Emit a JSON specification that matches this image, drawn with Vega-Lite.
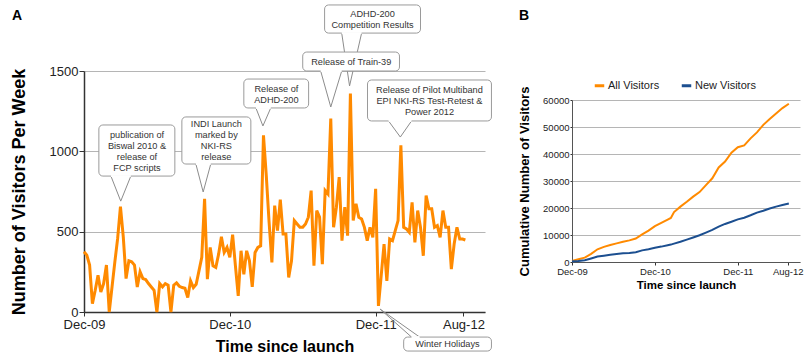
{
  "$schema": "https://vega.github.io/schema/vega-lite/v6.json",
  "padding": {"left": 10, "top": 4, "right": 0, "bottom": 0},
  "background": "white",
  "spacing": 26,
  "resolve": {"legend": {"color": "independent"}},
  "config": {
    "font": "Liberation Sans",
    "view": {"stroke": null},
    "axis": {"labelColor": "#222", "titleColor": "#000", "domainColor": "#333", "tickColor": "#333"}
  },
  "datasets": {
    "weekly": [
      {"week":0,"visitors":375},{"week":1,"visitors":354},{"week":2,"visitors":292},{"week":3,"visitors":52},{"week":4,"visitors":135},
      {"week":5,"visitors":229},{"week":6,"visitors":125},{"week":7,"visitors":177},{"week":8,"visitors":292},{"week":9,"visitors":0},
      {"week":10,"visitors":156},{"week":11,"visitors":312},{"week":12,"visitors":458},{"week":13,"visitors":656},{"week":14,"visitors":469},
      {"week":15,"visitors":208},{"week":16,"visitors":319},{"week":17,"visitors":312},{"week":18,"visitors":292},{"week":19,"visitors":156},
      {"week":20,"visitors":250},{"week":21,"visitors":208},{"week":22,"visitors":202},{"week":23,"visitors":177},{"week":24,"visitors":156},
      {"week":25,"visitors":135},{"week":26,"visitors":0},{"week":27,"visitors":177},{"week":28,"visitors":156},{"week":29,"visitors":177},
      {"week":30,"visitors":167},{"week":31,"visitors":0},{"week":32,"visitors":167},{"week":33,"visitors":181},{"week":34,"visitors":160},
      {"week":35,"visitors":152},{"week":36,"visitors":148},{"week":37,"visitors":90},{"week":38,"visitors":194},{"week":39,"visitors":152},
      {"week":40,"visitors":173},{"week":41,"visitors":256},{"week":42,"visitors":340},{"week":43,"visitors":704},{"week":44,"visitors":204},
      {"week":45,"visitors":402},{"week":46,"visitors":287},{"week":47,"visitors":277},{"week":48,"visitors":360},{"week":49,"visitors":469},
      {"week":50,"visitors":371},{"week":51,"visitors":402},{"week":52,"visitors":340},{"week":53,"visitors":481},{"week":54,"visitors":287},
      {"week":55,"visitors":100},{"week":56,"visitors":381},{"week":57,"visitors":235},{"week":58,"visitors":381},{"week":59,"visitors":319},
      {"week":60,"visitors":156},{"week":61,"visitors":371},{"week":62,"visitors":402},{"week":63,"visitors":412},{"week":64,"visitors":1100},
      {"week":65,"visitors":850},{"week":66,"visitors":560},{"week":67,"visitors":308},{"week":68,"visitors":662},{"week":69,"visitors":506},
      {"week":70,"visitors":700},{"week":71,"visitors":485},{"week":72,"visitors":485},{"week":73,"visitors":215},{"week":74,"visitors":319},
      {"week":75,"visitors":569},{"week":76,"visitors":548},{"week":77,"visitors":527},{"week":78,"visitors":527},{"week":79,"visitors":548},
      {"week":80,"visitors":590},{"week":81,"visitors":756},{"week":82,"visitors":288},{"week":83,"visitors":631},{"week":84,"visitors":590},
      {"week":85,"visitors":298},{"week":86,"visitors":756},{"week":87,"visitors":735},{"week":88,"visitors":1204},{"week":89,"visitors":527},
      {"week":90,"visitors":652},{"week":91,"visitors":840},{"week":92,"visitors":444},{"week":93,"visitors":652},{"week":94,"visitors":475},
      {"week":95,"visitors":1360},{"week":96,"visitors":569},{"week":97,"visitors":673},{"week":98,"visitors":590},{"week":99,"visitors":579},
      {"week":100,"visitors":527},{"week":101,"visitors":444},{"week":102,"visitors":527},{"week":103,"visitors":465},{"week":104,"visitors":767},
      {"week":105,"visitors":38},{"week":106,"visitors":230},{"week":107,"visitors":423},{"week":108,"visitors":194},{"week":109,"visitors":454},
      {"week":110,"visitors":444},{"week":111,"visitors":506},{"week":112,"visitors":569},{"week":113,"visitors":1037},{"week":114,"visitors":527},
      {"week":115,"visitors":517},{"week":116,"visitors":496},{"week":117,"visitors":683},{"week":118,"visitors":433},{"week":119,"visitors":631},
      {"week":120,"visitors":527},{"week":121,"visitors":350},{"week":122,"visitors":725},{"week":123,"visitors":642},{"week":124,"visitors":642},
      {"week":125,"visitors":527},{"week":126,"visitors":538},{"week":127,"visitors":465},{"week":128,"visitors":631},{"week":129,"visitors":527},
      {"week":130,"visitors":527},{"week":131,"visitors":267},{"week":132,"visitors":423},{"week":133,"visitors":527},{"week":134,"visitors":454},
      {"week":135,"visitors":454},{"week":136,"visitors":448}
    ],
    "callouts": [
      {"id":1,"x1":5.3,"x2":32.4,"y1":846,"y2":1164,"tx":18.9,"ty":1102,"bx1":9.6,"bx2":16.7,"by":846,"label":"publication of\nBiswal 2010 &\nrelease of\nFCP scripts"},
      {"id":2,"x1":34.9,"x2":59.5,"y1":921,"y2":1214,"tx":47.2,"ty":1170,"bx1":39.9,"bx2":45.2,"by":921,"label":"INDI Launch\nmarked by\nNKI-RS\nrelease"},
      {"id":3,"x1":57.0,"x2":80.1,"y1":1270,"y2":1450,"tx":68.6,"ty":1388,"bx1":61.3,"bx2":66.6,"by":1270,"label":"Release of\nADHD-200"},
      {"id":5,"x1":85.8,"x2":120.0,"y1":1736,"y2":1911,"tx":102.9,"ty":1852,"bx1":91.9,"bx2":99.0,"by":1736,"label":"ADHD-200\nCompetition Results"},
      {"id":4,"x1":78.0,"x2":112.5,"y1":1500,"y2":1618,"tx":95.3,"ty":1559,"bx1":84.4,"bx2":91.9,"by":1500,"label":"Release of Train-39"},
      {"id":6,"x1":101.1,"x2":145.3,"y1":1189,"y2":1444,"tx":123.2,"ty":1382,"bx1":108.6,"bx2":116.8,"by":1189,"label":"Release of Pilot Multiband\nEPI NKI-RS Test-Retest &\nPower 2012"},
      {"id":7,"x1":114.0,"x2":145.3,"y1":-243,"y2":-156,"tx":129.6,"ty":-199,"bx1":116.8,"bx2":119.7,"by":-156,"label":"Winter Holidays"}
    ],
    "pointers": [
      {"id":1,"seq":1,"wk":9.6,"val":846},{"id":1,"seq":2,"wk":13.1,"val":690},{"id":1,"seq":3,"wk":16.7,"val":846},
      {"id":2,"seq":1,"wk":39.9,"val":921},{"id":2,"seq":2,"wk":42.5,"val":747},{"id":2,"seq":3,"wk":45.2,"val":921},
      {"id":3,"seq":1,"wk":61.3,"val":1270},{"id":3,"seq":2,"wk":63.8,"val":1158},{"id":3,"seq":3,"wk":66.6,"val":1270},
      {"id":4,"seq":1,"wk":84.4,"val":1500},{"id":4,"seq":2,"wk":88.0,"val":1276},{"id":4,"seq":3,"wk":91.9,"val":1500},
      {"id":5,"seq":1,"wk":91.9,"val":1736},{"id":5,"seq":2,"wk":94.7,"val":1407},{"id":5,"seq":3,"wk":99.0,"val":1736},
      {"id":6,"seq":1,"wk":108.6,"val":1189},{"id":6,"seq":2,"wk":112.8,"val":1089},{"id":6,"seq":3,"wk":116.8,"val":1189},
      {"id":7,"seq":1,"wk":116.8,"val":-156},{"id":7,"seq":2,"wk":105.6,"val":18},{"id":7,"seq":3,"wk":119.7,"val":-156}
    ],
    "cumulative": [
      {"week":0,"All Visitors":400,"New Visitors":300},
      {"week":4,"All Visitors":1000,"New Visitors":400},
      {"week":8,"All Visitors":1600,"New Visitors":650},
      {"week":12,"All Visitors":3000,"New Visitors":1300},
      {"week":16,"All Visitors":4700,"New Visitors":2000},
      {"week":20,"All Visitors":5600,"New Visitors":2350},
      {"week":24,"All Visitors":6300,"New Visitors":2700},
      {"week":28,"All Visitors":6900,"New Visitors":2950},
      {"week":32,"All Visitors":7500,"New Visitors":3200},
      {"week":36,"All Visitors":8000,"New Visitors":3350},
      {"week":40,"All Visitors":8700,"New Visitors":3650},
      {"week":44,"All Visitors":10200,"New Visitors":4300},
      {"week":48,"All Visitors":11600,"New Visitors":4750},
      {"week":52,"All Visitors":13300,"New Visitors":5300},
      {"week":56,"All Visitors":14500,"New Visitors":5700},
      {"week":60,"All Visitors":15700,"New Visitors":6200},
      {"week":62,"All Visitors":16300,"New Visitors":6450},
      {"week":64,"All Visitors":18500,"New Visitors":6800},
      {"week":68,"All Visitors":20500,"New Visitors":7500},
      {"week":72,"All Visitors":22300,"New Visitors":8300},
      {"week":76,"All Visitors":24200,"New Visitors":9100},
      {"week":80,"All Visitors":25900,"New Visitors":9900},
      {"week":84,"All Visitors":28500,"New Visitors":10900},
      {"week":88,"All Visitors":31000,"New Visitors":11900},
      {"week":92,"All Visitors":35000,"New Visitors":13100},
      {"week":96,"All Visitors":37200,"New Visitors":14100},
      {"week":100,"All Visitors":40500,"New Visitors":14900},
      {"week":104,"All Visitors":42500,"New Visitors":15800},
      {"week":108,"All Visitors":43200,"New Visitors":16400},
      {"week":112,"All Visitors":45800,"New Visitors":17300},
      {"week":116,"All Visitors":48000,"New Visitors":18300},
      {"week":120,"All Visitors":50800,"New Visitors":19000},
      {"week":124,"All Visitors":53000,"New Visitors":19800},
      {"week":128,"All Visitors":55000,"New Visitors":20500},
      {"week":132,"All Visitors":57000,"New Visitors":21100},
      {"week":136,"All Visitors":58600,"New Visitors":21700}
    ]
  },
  "hconcat": [
    {
      "width": 401,
      "height": 241,
      "title": {"text": "A", "anchor": "start", "frame": "group", "fontSize": 14, "fontWeight": "bold", "color": "#000", "dx": -72, "offset": -30, "baseline": "alphabetic"},
      "layer": [
        {
          "data": {"name": "weekly"},
          "mark": {"type": "line", "color": "#ff8a00", "strokeWidth": 3, "strokeJoin": "miter"},
          "encoding": {
            "x": {"field": "week", "type": "quantitative",
              "scale": {"domain": [0, 143], "nice": false, "zero": false},
              "axis": {"values": [0, 52, 104, 135.3],
                "labelExpr": "datum.value < 26 ? 'Dec-09' : datum.value < 78 ? 'Dec-10' : datum.value < 120 ? 'Dec-11' : 'Aug-12'",
                "grid": false, "tickSize": 4, "labelPadding": 2, "labelFontSize": 13,
                "domainWidth": 1.5, "labelFlush": false,
                "title": "Time since launch", "titleFontSize": 16, "titleFontWeight": "bold", "titlePadding": 7}},
            "y": {"field": "visitors", "type": "quantitative",
              "scale": {"domain": [0, 1500], "nice": false},
              "axis": {"values": [0, 500, 1000, 1500], "format": "d", "grid": true, "gridColor": "#b5b5b5",
                "tickSize": 5, "labelPadding": 1, "labelFontSize": 13, "domainWidth": 1.5,
                "title": "Number of Visitors Per Week", "titleFontSize": 18, "titleFontWeight": "bold", "titlePadding": 21}}
          }
        },
        {
          "data": {"name": "pointers"},
          "mark": {"type": "line", "color": "#8c8c8c", "strokeWidth": 1},
          "encoding": {
            "x": {"field": "wk", "type": "quantitative"},
            "y": {"field": "val", "type": "quantitative"},
            "detail": {"field": "id"},
            "order": {"field": "seq"}
          }
        },
        {
          "data": {"name": "callouts"},
          "mark": {"type": "rect", "fill": "white", "stroke": "#9a9a9a", "strokeWidth": 1, "cornerRadius": 4},
          "encoding": {
            "x": {"field": "x1", "type": "quantitative"},
            "x2": {"field": "x2"},
            "y": {"field": "y1", "type": "quantitative"},
            "y2": {"field": "y2"}
          }
        },
        {
          "data": {"name": "callouts"},
          "mark": {"type": "rule", "color": "white", "strokeWidth": 2},
          "encoding": {
            "x": {"field": "bx1", "type": "quantitative"},
            "x2": {"field": "bx2"},
            "y": {"field": "by", "type": "quantitative"}
          }
        },
        {
          "data": {"name": "callouts"},
          "mark": {"type": "text", "fontSize": 9.2, "color": "#333", "lineBreak": "\n", "lineHeight": 11, "align": "center", "baseline": "middle"},
          "encoding": {
            "x": {"field": "tx", "type": "quantitative"},
            "y": {"field": "ty", "type": "quantitative"},
            "text": {"field": "label"}
          }
        }
      ]
    },
    {
      "width": 228,
      "height": 191,
      "title": {"text": "B", "anchor": "start", "frame": "group", "fontSize": 14, "fontWeight": "bold", "color": "#000", "dx": -53, "offset": 37, "baseline": "alphabetic"},
      "data": {"name": "cumulative"},
      "transform": [{"fold": ["All Visitors", "New Visitors"], "as": ["series", "total"]}],
      "mark": {"type": "line", "strokeWidth": 2},
      "encoding": {
        "x": {"field": "week", "type": "quantitative",
          "scale": {"domain": [0, 143], "nice": false, "zero": false},
          "axis": {"values": [0, 52, 104, 135.3],
            "labelExpr": "datum.value < 26 ? 'Dec-09' : datum.value < 78 ? 'Dec-10' : datum.value < 120 ? 'Dec-11' : 'Aug-12'",
            "grid": false, "tickSize": 3, "labelPadding": 1, "labelFontSize": 9.5, "labelFlush": false,
            "domainColor": "#555",
            "title": "Time since launch", "titleFontSize": 11.5, "titleFontWeight": "bold", "titlePadding": 4}},
        "y": {"field": "total", "type": "quantitative",
          "scale": {"domain": [0, 60000], "range": [191, 29], "nice": false},
          "axis": {"values": [0, 10000, 20000, 30000, 40000, 50000, 60000], "format": "d",
            "grid": true, "gridColor": "#b5b5b5", "domainColor": "#555",
            "tickSize": 2, "labelPadding": 1, "labelFontSize": 9.5,
            "title": "Cumulative Number of Visitors", "titleFontSize": 13, "titleFontWeight": "bold", "titlePadding": 11}},
        "color": {"field": "series", "type": "nominal",
          "scale": {"domain": ["All Visitors", "New Visitors"], "range": ["#ff8a00", "#1c4f90"]},
          "legend": {"orient": "none", "legendX": 21, "legendY": 8, "direction": "horizontal", "title": null,
            "symbolType": "stroke", "symbolStrokeWidth": 3, "symbolSize": 90, "labelFontSize": 11, "labelColor": "#222",
            "columnPadding": 15, "labelOffset": 2}}
      }
    }
  ]
}
